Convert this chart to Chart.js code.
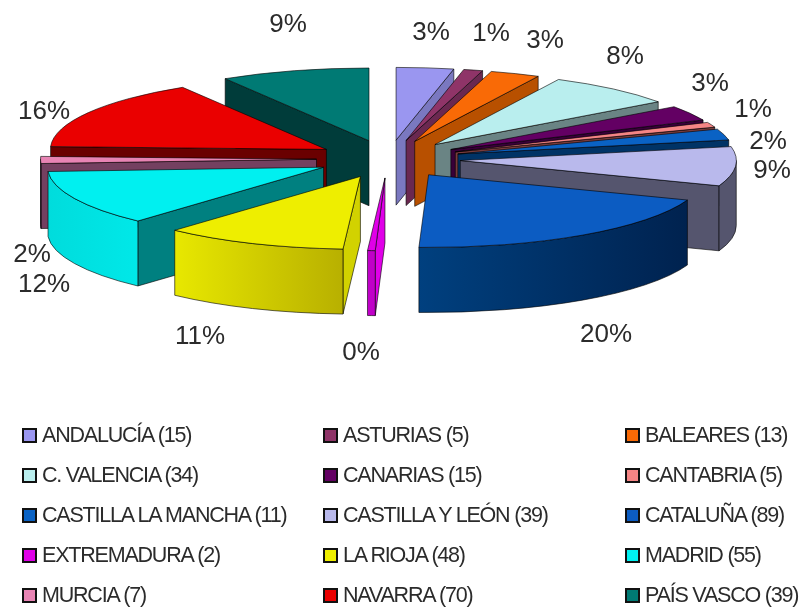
<!DOCTYPE html>
<html>
<head>
<meta charset="utf-8">
<script src="https://cdn.jsdelivr.net/npm/chart.js@4"></script>
<style>
  html, body { margin: 0; padding: 0; background: #fff; }
  #wrap { position: relative; width: 804px; height: 611px; overflow: hidden; filter: blur(0.5px); }
  #myChart { position: absolute; left: 0; top: 0; }
  #legend { position: absolute; left: 22px; top: 415px; display: grid;
    grid-template-columns: 301px 302px 180px; grid-auto-rows: 40px;
    font: 21.5px "Liberation Sans", Arial, sans-serif; color: #2b2b2b; letter-spacing: -1.2px; }
  .item { display: flex; align-items: center; white-space: nowrap; }
  .box { width: 11px; height: 11px; border: 2px solid #111; margin-right: 5px; flex: none; }
</style>
</head>
<body>
<div id="wrap">
  <canvas id="myChart" width="804" height="611"></canvas>
  <div id="legend"></div>
</div>
<script>
const categories = ['ANDALUCÍA', 'ASTURIAS', 'BALEARES', 'C. VALENCIA', 'CANARIAS', 'CANTABRIA',
    'CASTILLA LA MANCHA', 'CASTILLA Y LEÓN', 'CATALUÑA', 'EXTREMADURA', 'LA RIOJA', 'MADRID',
    'MURCIA', 'NAVARRA', 'PAÍS VASCO'];
const values = [15, 5, 13, 34, 15, 5, 11, 39, 89, 2, 48, 55, 7, 70, 39];

const topColors = ['#9a96f0', '#8f3468', '#f96a06', '#b9eeee', '#630063', '#f58585',
    '#0a62c4', '#b9b9ec', '#0c5cc2', '#e000e8', '#eeee00', '#00f0f0', '#e884b4', '#ea0000', '#007a74'];
const cutColors = ['#7a78c0', '#6a2850', '#b85000', '#6a8484', '#380038', '#7a3c3c',
    '#003366', '#55556e', '#002f66', '#e000e8', '#d2d200', '#008080', '#744060', '#6a0000', '#003c3a'];
const rimLeft = ['#7a78c0', '#6a2850', '#b85000', '#6a8484', '#380038', '#7a3c3c',
    '#003366', '#55556e', '#00407f', '#c000c8', '#e8e800', '#00dcdc', '#744060', '#6a0000', '#003c3a'];
const rimRight = ['#7a78c0', '#6a2850', '#b85000', '#6a8484', '#380038', '#7a3c3c',
    '#003366', '#55556e', '#00224f', '#c000c8', '#b8b000', '#00e8e8', '#744060', '#6a0000', '#003c3a'];

// where the percent labels sit (centre of the text)
const labelSpots = [[431, 32], [491, 33], [545, 40], [625, 56], [710, 83], [753, 109], [768, 141], [772, 170],
    [606, 334], [361, 352], [200, 336], [44, 284], [32, 254], [44, 111], [288, 24]];

// view of the tilted pie
const pieX = 388.5;
const pieY = 159;
const tilt = 0.2635;
const explode = 72;
const depth = 65;

const total = values.reduce((a, b) => a + b, 0);

const slicePieces = (arc) => {
    const mid = (arc.startAngle + arc.endAngle) / 2;
    return {
        x: pieX + Math.cos(mid) * explode,
        y: pieY + Math.sin(mid) * explode * tilt,
        r: arc.outerRadius,
        mid: mid
    };
};

const drawCut = (ctx, p, angle, fill) => {
    const ex = p.x + Math.cos(angle) * p.r;
    const ey = p.y + Math.sin(angle) * p.r * tilt;
    ctx.beginPath();
    ctx.moveTo(p.x, p.y);
    ctx.lineTo(ex, ey);
    ctx.lineTo(ex, ey + depth);
    ctx.lineTo(p.x, p.y + depth);
    ctx.closePath();
    ctx.fillStyle = fill;
    ctx.fill();
    ctx.stroke();
};

const drawRim = (ctx, p, from, to, left, right) => {
    const x1 = p.x + Math.cos(from) * p.r;
    const x2 = p.x + Math.cos(to) * p.r;
    // angles run clockwise, so "from" is the right end of the front rim
    const g = ctx.createLinearGradient(Math.min(x1, x2), 0, Math.max(x1, x2), 0);
    g.addColorStop(0, left);
    g.addColorStop(1, right);
    ctx.beginPath();
    ctx.ellipse(p.x, p.y, p.r, p.r * tilt, 0, from, to);
    ctx.ellipse(p.x, p.y + depth, p.r, p.r * tilt, 0, to, from, true);
    ctx.closePath();
    ctx.fillStyle = g;
    ctx.fill();
    ctx.stroke();
};

const pie3d = {
    id: 'pie3d',
    beforeDatasetsDraw: (chart) => {
        const ctx = chart.ctx;
        const arcs = chart.getDatasetMeta(0).data;
        const order = arcs.map((arc, i) => i).sort((a, b) => {
            return Math.sin((arcs[a].startAngle + arcs[a].endAngle) / 2) - Math.sin((arcs[b].startAngle + arcs[b].endAngle) / 2);
        });
        ctx.save();
        ctx.lineWidth = 1;
        ctx.lineJoin = 'round';
        ctx.strokeStyle = 'rgba(0,0,0,0.6)';
        order.forEach((i) => {
            const arc = arcs[i];
            const p = slicePieces(arc);
            // only the faces turned towards the viewer
            if (Math.cos(arc.startAngle) < 0) drawCut(ctx, p, arc.startAngle, cutColors[i]);
            if (Math.cos(arc.endAngle) > 0) drawCut(ctx, p, arc.endAngle, cutColors[i]);
            const from = Math.max(arc.startAngle, 0);
            const to = Math.min(arc.endAngle, Math.PI);
            if (to > from) drawRim(ctx, p, from, to, rimLeft[i], rimRight[i]);
            // top of the slice
            ctx.beginPath();
            ctx.moveTo(p.x, p.y);
            ctx.ellipse(p.x, p.y, p.r, p.r * tilt, 0, arc.startAngle, arc.endAngle);
            ctx.closePath();
            ctx.fillStyle = topColors[i];
            ctx.fill();
            ctx.stroke();
        });
        ctx.restore();
        return false;
    },
    afterDraw: (chart) => {
        const ctx = chart.ctx;
        ctx.save();
        ctx.font = '26px "Liberation Sans", Arial, sans-serif';
        ctx.fillStyle = '#2b2b2b';
        ctx.textAlign = 'center';
        ctx.textBaseline = 'middle';
        values.forEach((v, i) => {
            ctx.fillText(Math.round(v * 100 / total) + '%', labelSpots[i][0], labelSpots[i][1] + 1);
        });
        ctx.restore();
    }
};

new Chart(document.getElementById('myChart'), {
    type: 'pie',
    plugins: [pie3d],
    data: {
        labels: categories,
        datasets: [{ data: values, backgroundColor: topColors, borderWidth: 0 }]
    },
    options: {
        responsive: false,
        animation: false,
        radius: 276,
        plugins: { legend: { display: false }, tooltip: { enabled: false } }
    }
});

// legend under the pie, three columns
const legendBox = document.getElementById('legend');
categories.forEach((name, i) => {
    const item = document.createElement('div');
    item.className = 'item';
    const box = document.createElement('span');
    box.className = 'box';
    box.style.background = topColors[i];
    item.appendChild(box);
    item.appendChild(document.createTextNode(name + ' (' + values[i] + ')'));
    legendBox.appendChild(item);
});
</script>
</body>
</html>
